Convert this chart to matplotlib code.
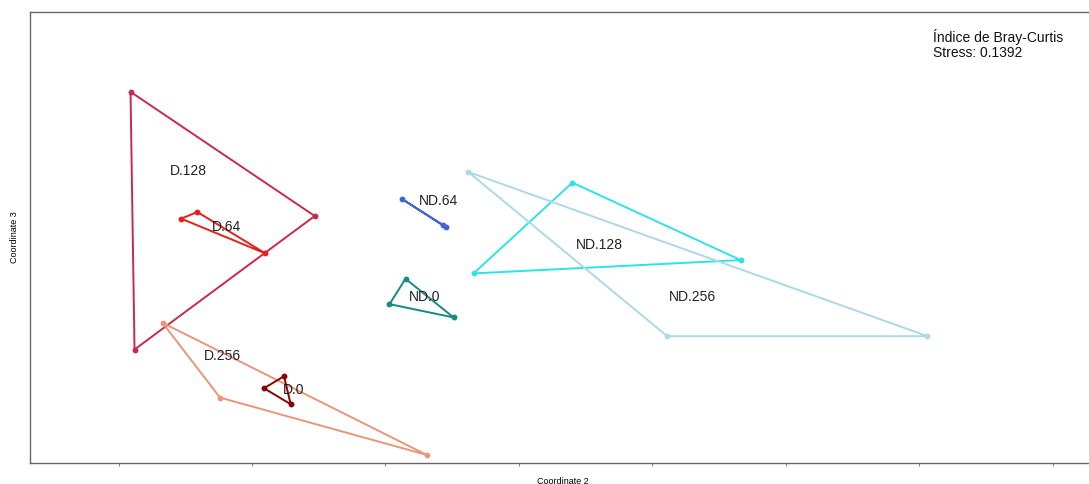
import matplotlib
matplotlib.use("Agg")
import matplotlib.pyplot as plt

plt.rcParams['font.family'] = ['Liberation Sans', 'DejaVu Sans']

# NMDS ordination (Bray-Curtis), coordinates 2 and 3, hull of each group
groups = ["D.128", "D.64", "D.256", "D.0", "ND.64", "ND.0", "ND.128", "ND.256"]

d128_x = [-0.291, -0.153, -0.288]
d128_y = [0.111, 0.018, -0.082]
d64_x = [-0.253, -0.241, -0.190]
d64_y = [0.016, 0.021, -0.010]
d256_x = [-0.267, -0.224, -0.069]
d256_y = [-0.062, -0.118, -0.161]
d0_x = [-0.176, -0.191, -0.171]
d0_y = [-0.102, -0.111, -0.123]
nd64_x = [-0.088, -0.057, -0.055]
nd64_y = [0.031, 0.011, 0.010]
nd0_x = [-0.085, -0.097, -0.049]
nd0_y = [-0.029, -0.048, -0.058]
nd128_x = [0.040, -0.034, 0.166]
nd128_y = [0.043, -0.025, -0.015]
nd256_x = [-0.038, 0.111, 0.306]
nd256_y = [0.051, -0.072, -0.072]

label_x = [-0.248, -0.219, -0.222, -0.169, -0.060, -0.071, 0.060, 0.130]
label_y = [0.052, 0.010, -0.087, -0.112, 0.029, -0.043, -0.004, -0.043]

colors = ["#C8294C", "#E3201C", "#E9967A", "#8B0000",
          "#4362D6", "#138C82", "#2EE3E6", "#ADD8E6"]

xs = [d128_x, d64_x, d256_x, d0_x, nd64_x, nd0_x, nd128_x, nd256_x]
ys = [d128_y, d64_y, d256_y, d0_y, nd64_y, nd0_y, nd128_y, nd256_y]

fig = plt.figure(figsize=(10.89, 4.84), dpi=100)
ax = fig.add_axes([30 / 1089, 21 / 484, 1065 / 1089, 451 / 484])

for name, gx, gy, col, lx, ly in zip(groups, xs, ys, colors, label_x, label_y):
    ax.fill(gx, gy, facecolor="none", edgecolor=col, linewidth=1.4, zorder=2)
    ax.plot(gx, gy, linestyle="none", marker="o", markersize=3.2,
            color=col, zorder=3)
    ax.text(lx, ly, name, fontsize=10, color="#222222",
            ha="center", va="center", zorder=4)

ax.set_xlim(-0.3663, 0.4315)
ax.set_ylim(-0.167, 0.1708)
ax.set_xticks([-0.3, -0.2, -0.1, 0.0, 0.1, 0.2, 0.3, 0.4])
ax.set_xticklabels([])
ax.set_yticks([])
ax.tick_params(axis="x", length=2.5, width=0.8, color="#888888")

for side in ["left", "bottom", "top", "right"]:
    ax.spines[side].set_color("#666666")
    ax.spines[side].set_linewidth(1.0)

ax.set_xlabel("Coordinate 2", fontsize=6.5, labelpad=4)
ax.set_ylabel("Coordinate 3", fontsize=6.5, labelpad=8)

ax.text(0.848, 0.962, "Índice de Bray-Curtis\nStress: 0.1392",
        transform=ax.transAxes, fontsize=10, ha="left", va="top",
        linespacing=1.1, color="#111111")

fig.savefig("out.png", dpi=100)
